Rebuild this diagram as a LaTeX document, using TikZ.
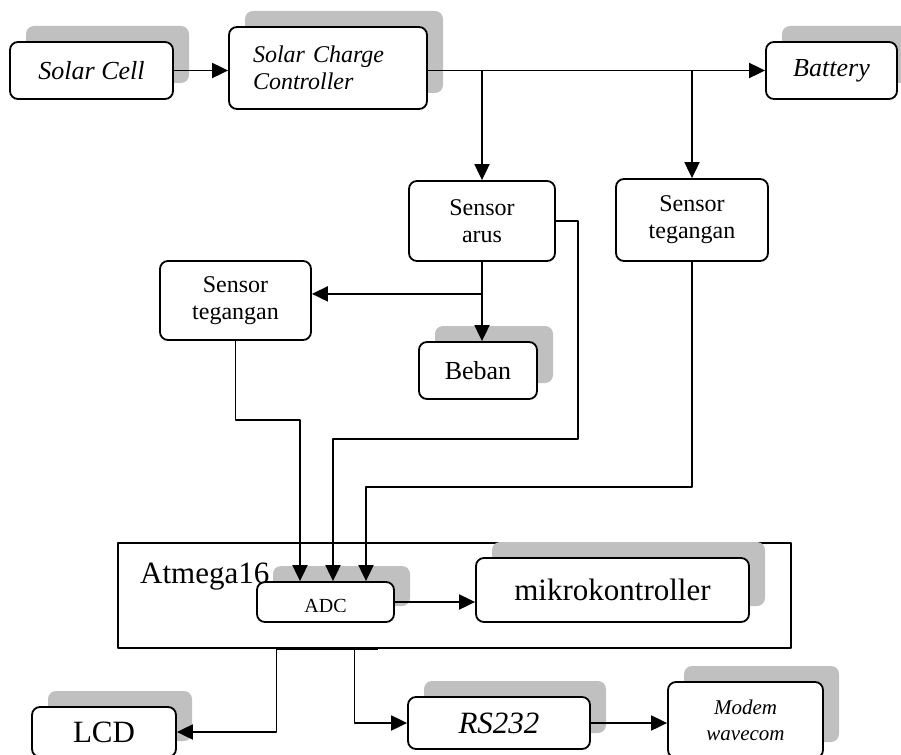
\documentclass[tikz,border=0pt]{standalone}
\usepackage{fontspec}
\setmainfont{Liberation Serif}
\usetikzlibrary{arrows.meta,shadows}
\definecolor{schaduw}{RGB}{192,192,192}
\begin{document}
\begin{tikzpicture}[x=1pt, y=-1pt, line join=round, >={Triangle[length=16pt,width=15pt]},
	blok/.style={draw, fill=white, rounded corners=8pt, line width=1.8pt, inner sep=0pt, align=center, drop shadow={shadow xshift=16pt, shadow yshift=16pt, fill=schaduw, opacity=1}},
	polos/.style={draw, fill=white, rounded corners=8pt, line width=1.8pt, inner sep=0pt, align=center},
	pijl/.style={->, line width=1.9pt},
	besar/.style={font=\fontsize{31}{35}\selectfont},
	sedang/.style={font=\fontsize{24}{27}\selectfont},
	kecil/.style={font=\fontsize{21}{26}\selectfont\itshape}]
	\useasboundingbox (0,0) rectangle (901,754);
	\node[blok, font=\fontsize{26}{30}\selectfont\itshape, minimum width=163pt, minimum height=57pt] (solar) at (91.5,70.5) {Solar Cell};
	\node[blok, font=\fontsize{24}{27}\selectfont\itshape, inner xsep=24pt, text width=150pt, align=left, minimum height=82pt] (scc) at (328,68) {Solar Charge\\Controller};
	\node[blok, font=\fontsize{26}{30}\selectfont\itshape, minimum width=131pt, minimum height=57pt] (battery) at (831.5,70.5) {Battery};
	\node[polos, sedang, minimum width=146pt, minimum height=80pt] (arus) at (482,221) {Sensor\\arus};
	\node[polos, sedang, minimum width=152pt, minimum height=82pt] (tegR) at (692,220) {Sensor\\tegangan};
	\node[polos, sedang, minimum width=151pt, minimum height=79pt] (tegL) at (235.5,300.5) {Sensor\\tegangan};
	\node[blok, font=\fontsize{26}{30}\selectfont, minimum width=118pt, minimum height=57pt] (beban) at (478,370.5) {Beban};
	\node[draw, line width=1.5pt, inner sep=0pt, minimum width=673pt, minimum height=105pt] (atmega) at (454.5,595.5) {};
	\node[blok, minimum width=137pt, minimum height=40pt] (adc) at (325.5,602) {};
	\begin{scope}
		\clip (257,590) rectangle (394,611);
		\node[font=\fontsize{20}{24}\selectfont, inner sep=0pt] (adcLabel) at (325.5,606) {ADC};
	\end{scope}
	\node[besar, anchor=base west, inner sep=0pt] (atmegaLabel) at (140,583) {Atmega16};
	\node[blok, besar, minimum width=273pt, minimum height=64pt] (mikro) at (612.5,590) {mikrokontroller};
	\node[blok, besar, minimum width=144pt, minimum height=50pt] (lcd) at (104,732) {LCD};
	\node[blok, font=\fontsize{31}{35}\selectfont\itshape, minimum width=182pt, minimum height=52pt] (rs) at (499,723) {RS232};
	\node[blok, kecil, minimum width=155pt, minimum height=76pt] (modem) at (745.5,720) {Modem\\wavecom};
	\coordinate (in1) at ([xshift=-25.5pt]adc.north);
	\coordinate (in2) at ([xshift=7.5pt]adc.north);
	\coordinate (in3) at ([xshift=40.5pt]adc.north);
	\coordinate (cab) at ([yshift=-32pt]arus.south);
	\coordinate (outL) at ([xshift=-178pt]atmega.south);
	\coordinate (outR) at ([xshift=-100pt]atmega.south);
	\draw[pijl] (solar) -- (solar -| scc.west);
	\draw[pijl] (scc.east |- battery) -- (battery.west);
	\draw[pijl] (arus.north |- battery) -- (arus.north);
	\draw[pijl] (tegR.north |- battery) -- (tegR.north);
	\draw[pijl] (arus.south) -- (arus.south |- beban.north);
	\draw[pijl] (cab) -- (cab -| tegL.east);
	\draw[pijl] (arus.east) -| ++(22,218) -| (in2);
	\draw[pijl] (tegL.south) -- ++(0,79) -| (in1);
	\draw[pijl] (tegR.south) -- ++(0,225) -| (in3);
	\draw[pijl] (adc.east) -- (adc.east -| mikro.west);
	\draw[pijl] ([xshift=-77pt]atmega.south) -- (outL) |- (lcd.east);
	\draw[pijl] (outR) |- (rs.west);
	\draw[pijl] (rs.east) -- (rs.east -| modem.west);
\end{tikzpicture}
\end{document}
